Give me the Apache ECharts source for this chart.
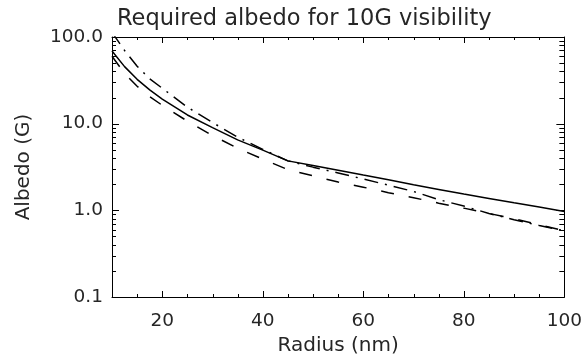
<!DOCTYPE html>
<html>
<head>
<meta charset="utf-8">
<script src="https://cdn.jsdelivr.net/npm/echarts@6/dist/echarts.min.js"></script>
</head>
<body style="margin:0;background:#fff">
<div id="chart" style="width:585px;height:362px"></div>
<script>
var radius = [10, 12.5, 15, 17.5, 20, 25, 30, 35, 40, 45, 50, 55, 60, 65, 70, 75, 80, 85, 90, 95, 100];
var albedoSolid = [69, 45.5, 32.5, 24.5, 19.2, 12.6, 9.0, 6.5, 4.95, 3.72, 3.3, 2.9, 2.55, 2.25, 1.97, 1.74, 1.54, 1.37, 1.22, 1.09, 0.97];
var albedoDashed = [60, 38, 27, 20.5, 16.3, 10.7, 7.3, 5.2, 3.9, 2.95, 2.5, 2.12, 1.85, 1.6, 1.4, 1.21, 1.06, 0.92, 0.8, 0.68, 0.58];
var albedoDashDot = [113, 70, 46, 33, 25.6, 15.5, 10.3, 7.0, 5.05, 3.72, 3.15, 2.7, 2.3, 1.95, 1.65, 1.33, 1.12, 0.92, 0.78, 0.67, 0.58];
var xMajorTicks = [20, 40, 60, 80, 100];
var xMinorTicks = [15, 25, 30, 35, 45, 50, 55, 65, 70, 75, 85, 90, 95];
var yMajorTicks = [0.1, 1, 10, 100];
var yMajorLabels = ['0.1', '1.0', '10.0', '100.0'];
var yMinorTicks = [0.2,0.3,0.4,0.5,0.6,0.7,0.8,0.9,2,3,4,5,6,7,8,9,20,30,40,50,60,70,80,90];

var titleText = 'Required albedo for 10G visibility';
var xName = 'Radius (nm)';
var yName = 'Albedo (G)';

function pairs(vals){ return radius.map(function(r,i){ return [r, vals[i]]; }); }

var FONT = 'DejaVu Sans';
var TXT = '#262626';

function axLine(){ return {show:true, onZero:false, lineStyle:{color:'#000', width:1}}; }

var chart = echarts.init(document.getElementById('chart'));
try {
chart.setOption({
  animation:false,
  title:{text:titleText, left:112, top:3,
    textStyle:{fontFamily:FONT, fontSize:22.5, fontWeight:'normal', color:TXT}},
  grid:{left:112, right:19, top:37, bottom:65},
  xAxis:[
    {type:'value', min:10, max:100, position:'bottom',
     name:xName, nameLocation:'middle', nameGap:38,
     nameTextStyle:{fontFamily:FONT, fontSize:20, color:TXT},
     axisLine:axLine(), axisTick:{show:false},
     axisLabel:{show:true, customValues:xMajorTicks, margin:15, fontFamily:FONT, fontSize:18.5, color:TXT},
     splitLine:{show:false}},
    {type:'value', min:10, max:100, position:'top',
     axisLine:axLine(), axisTick:{show:false}, axisLabel:{show:false}, splitLine:{show:false}}
  ],
  yAxis:[
    {type:'log', min:0.1, max:100, position:'left',
     name:yName, nameLocation:'middle', nameGap:78,
     nameTextStyle:{fontFamily:FONT, fontSize:20, color:TXT},
     axisLine:axLine(), axisTick:{show:false},
     axisLabel:{show:true, customValues:yMajorTicks, margin:9, fontFamily:FONT, fontSize:18.5, color:TXT,
       formatter:function(v){
         for (var i=0;i<yMajorTicks.length;i++){ if (Math.abs(v-yMajorTicks[i]) < 1e-9*Math.max(1,v)) return yMajorLabels[i]; }
         return String(v);
       }},
     splitLine:{show:false}},
    {type:'log', min:0.1, max:100, position:'right',
     axisLine:axLine(), axisTick:{show:false}, axisLabel:{show:false}, splitLine:{show:false}}
  ],
  series:[
    {type:'line', xAxisIndex:0, yAxisIndex:0, data:pairs(albedoSolid), symbol:'none',
     lineStyle:{color:'#000', width:1.5, type:'solid'}},
    {type:'line', xAxisIndex:0, yAxisIndex:0, data:pairs(albedoDashed), symbol:'none',
     lineStyle:{color:'#000', width:1.5, type:[13,15]}},
    {type:'line', xAxisIndex:0, yAxisIndex:0, data:pairs(albedoDashDot), symbol:'none',
     lineStyle:{color:'#000', width:1.5, type:[14,7,2,7]}}
  ]
});
} catch (e) { /* keep going so tick marks are still drawn */ }

// Tick marks: positions come from the chart's own axis scales
function toPx(dim, v){
  var r = NaN;
  try { r = chart.convertToPixel(dim === 'x' ? {xAxisIndex:0} : {yAxisIndex:0}, v); } catch (e) { r = NaN; }
  if (typeof r !== 'number' || !isFinite(r)) {
    try {
      var m = chart.getModel().getComponent(dim === 'x' ? 'xAxis' : 'yAxis', 0);
      r = m.axis.toGlobalCoord(m.axis.dataToCoord(v));
    } catch (e) { r = NaN; }
  }
  return r;
}
(function(){
  var x0 = toPx('x', 10), x1 = toPx('x', 100);
  var yB = toPx('y', 0.1), yT = toPx('y', 100);
  var zr = chart.getZr();
  function seg(a, b, c, d){
    zr.add(new echarts.graphic.Line({
      shape:{x1:a, y1:b, x2:c, y2:d},
      style:{stroke:'#000', lineWidth:1},
      z:100, silent:true
    }));
  }
  function xt(list, len){
    list.forEach(function(v){
      var p = Math.round(toPx('x', v)) + 0.5;
      seg(p, yB, p, yB - len);
      seg(p, yT, p, yT + len);
    });
  }
  function yt(list, lenL, lenR){
    list.forEach(function(v){
      var p = Math.round(toPx('y', v)) + 0.5;
      seg(x0, p, x0 + lenL, p);
      seg(x1, p, x1 - lenR, p);
    });
  }
  xt(xMajorTicks, 6);
  xt(xMinorTicks, 3);
  yt(yMajorTicks, 7, 8);
  yt(yMinorTicks, 4, 5);
})();
</script>
</body>
</html>
